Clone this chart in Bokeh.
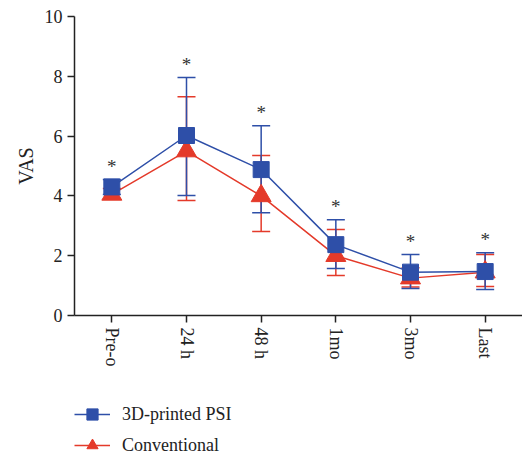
from bokeh.plotting import figure
from bokeh.layouts import column
from bokeh.models import ColumnDataSource, Whisker, TeeHead, Legend, LegendItem, FactorRange, Range1d
from bokeh.core.properties import value
from bokeh.embed import file_html
from bokeh.resources import INLINE

categories = ["Pre-o", "24 h", "48 h", "1mo", "3mo", "Last"]
psi_mean = [4.3, 6.02, 4.88, 2.37, 1.45, 1.47]
psi_low = [4.05, 4.01, 3.44, 1.57, 0.90, 0.87]
psi_high = [4.55, 7.96, 6.35, 3.20, 2.04, 2.10]
conv_mean = [4.05, 5.5, 4.0, 2.0, 1.25, 1.45]
conv_low = [3.90, 3.85, 2.81, 1.34, 0.95, 0.97]
conv_high = [4.25, 7.32, 5.35, 2.88, 1.60, 2.04]
y_ticks = [0, 2, 4, 6, 8, 10]
series_names = ["3D-printed PSI", "Conventional"]

BLUE = "#2E4FA8"
RED = "#E43A2A"
FONT = "Liberation Serif"
INK = "#222222"

psi = ColumnDataSource(dict(x=categories, y=psi_mean, lo=psi_low, hi=psi_high))
conv = ColumnDataSource(dict(x=categories, y=conv_mean, lo=conv_low, hi=conv_high))
star_y = [max(a, b) + 0.45 for a, b in zip(psi_high, conv_high)]
stars = ColumnDataSource(dict(x=categories, y=star_y, t=["*"] * len(categories)))

p = figure(x_range=FactorRange(*categories, range_padding=0), y_range=(0, 10),
           frame_width=448, frame_height=299, output_backend="svg", toolbar_location=None,
           min_border_left=74, min_border_right=0, min_border_top=16, min_border_bottom=82)
p.outline_line_color = None
p.grid.grid_line_color = None

# error bars
for src, col in ((conv, RED), (psi, BLUE)):
    w = Whisker(source=src, base="x", lower="lo", upper="hi", line_color=col, line_width=1.5,
                upper_head=TeeHead(size=18, line_color=col, line_width=1.5),
                lower_head=TeeHead(size=18, line_color=col, line_width=1.5))
    p.add_layout(w)

p.line("x", "y", source=conv, color=RED, line_width=1.5)
p.scatter("x", "y", source=conv, marker="triangle", size=20, color=RED)
p.line("x", "y", source=psi, color=BLUE, line_width=1.5)
p.scatter("x", "y", source=psi, marker="square", size=16, color=BLUE)

p.text("x", "y", text="t", source=stars, text_align="center", text_baseline="middle",
       text_font=value(FONT), text_font_size="19px", text_color="#333333")

# axes
p.yaxis.ticker = y_ticks
p.yaxis.axis_label = "VAS"
p.yaxis.axis_label_text_font = FONT
p.yaxis.axis_label_text_font_style = "normal"
p.yaxis.axis_label_text_font_size = "20px"
p.yaxis.axis_label_text_color = INK
for ax in (p.xaxis, p.yaxis):
    ax.major_label_text_font = FONT
    ax.major_label_text_font_size = "18px"
    ax.major_label_text_color = INK
    ax.axis_line_color = INK
    ax.axis_line_width = 1.5
    ax.major_tick_line_color = INK
    ax.major_tick_line_width = 1.5
    ax.major_tick_out = 7
    ax.major_tick_in = 0
    ax.minor_tick_line_color = None
p.xaxis.major_label_orientation = "vertical"

# legend in its own strip below the chart (its frame is aligned with the chart's frame)
lg = figure(width=522, height=58, output_backend="svg", toolbar_location=None,
            x_range=FactorRange(*categories), y_range=Range1d(100, 101),
            x_axis_location=None, y_axis_location=None,
            min_border=0, min_border_left=0, min_border_right=0, min_border_top=0, min_border_bottom=0)
lg.grid.grid_line_color = None
lg.outline_line_color = None
l1 = lg.line("x", "y", source=psi, color=BLUE, line_width=1.5)
m1 = lg.scatter("x", "y", source=psi, marker="square", size=16, color=BLUE)
l2 = lg.line("x", "y", source=conv, color=RED, line_width=1.5)
m2 = lg.scatter("x", "y", source=conv, marker="triangle", size=20, color=RED)
legend = Legend(items=[LegendItem(label=series_names[0], renderers=[l1, m1]),
                       LegendItem(label=series_names[1], renderers=[l2, m2])],
                location=(0, -4), orientation="vertical",
                label_text_font=FONT, label_text_font_size="18px", label_text_color=INK,
                glyph_width=36, glyph_height=28, spacing=3, padding=0, margin=0,
                border_line_color=None, background_fill_alpha=0, label_standoff=12)
lg.add_layout(legend, "center")

open("out.html", "w").write(file_html(column(p, lg, spacing=0), INLINE))
